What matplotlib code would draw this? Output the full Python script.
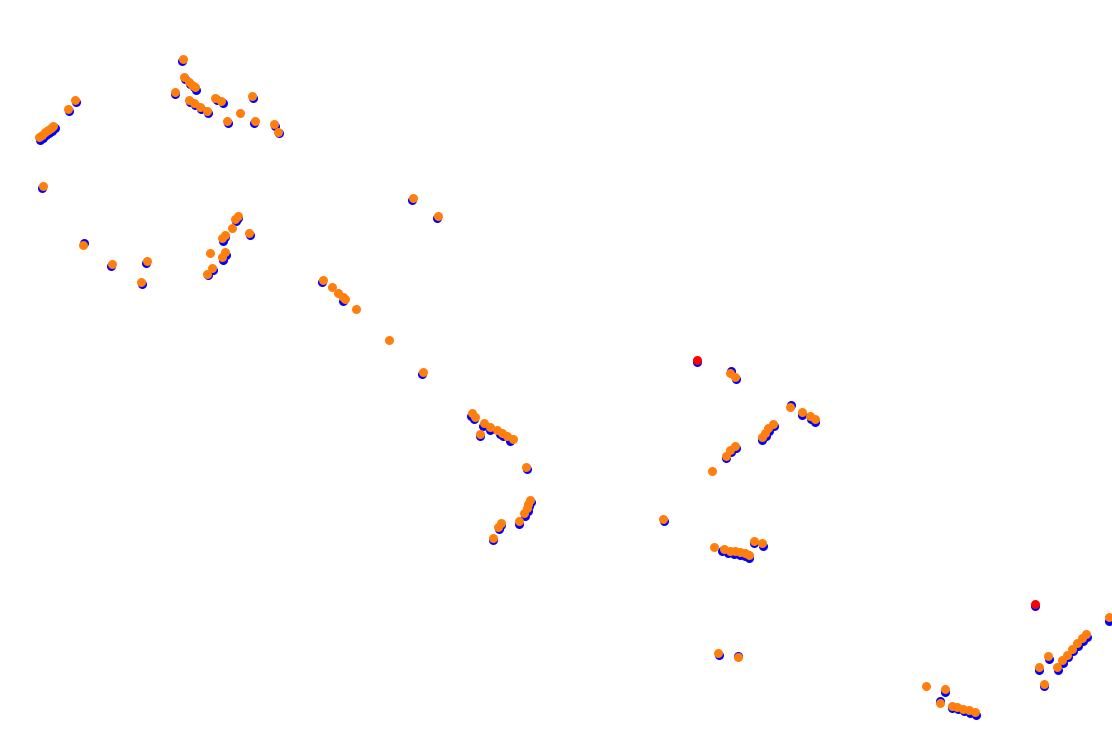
import matplotlib
matplotlib.use("Agg")
import matplotlib.pyplot as plt

# points (pixel-like units, y grows downward)
orange_x = [183, 184, 189, 192, 195, 175, 189, 194, 200, 207, 215, 221, 252, 240, 227, 255, 274, 278,
            75, 68, 39, 42, 45, 48, 51, 53, 43,
            83, 112, 147, 141, 238, 235, 232, 249, 225, 222, 210, 225, 222, 212, 207,
            413, 438, 323, 332, 338, 343, 345, 356, 389, 423,
            472, 475, 484, 490, 497, 502, 507, 513, 480, 526,
            530, 528, 527, 524, 519, 501, 498, 493,
            730, 735, 790, 802, 810, 815, 773, 768, 765, 762, 735, 730, 726, 712,
            663, 714, 724, 730, 735, 740, 745, 749, 754, 762, 718, 738,
            1109, 1086, 1082, 1077, 1072, 1067, 1062, 1057, 1048, 1039, 1044,
            926, 945, 940, 952, 957, 963, 969, 975]
orange_y = [59, 77, 82, 85, 87, 92, 100, 103, 107, 111, 98, 101, 96, 113, 121, 121, 124, 132,
            100, 109, 137, 135, 132, 130, 128, 126, 186,
            245, 264, 261, 282, 216, 219, 228, 233, 235, 238, 253, 252, 257, 268, 274,
            198, 216, 280, 287, 293, 297, 299, 309, 340, 372,
            413, 417, 423, 427, 430, 433, 436, 439, 434, 467,
            500, 504, 508, 513, 521, 523, 527, 538,
            373, 377, 407, 412, 416, 419, 424, 428, 433, 437, 446, 450, 456, 471,
            519, 547, 549, 551, 551, 552, 553, 555, 541, 543, 653, 657,
            617, 634, 638, 643, 649, 655, 660, 667, 656, 667, 684,
            686, 689, 703, 706, 707, 709, 710, 712]

blue_x = [182, 185, 190, 194, 196, 175, 190, 195, 201, 208, 217, 223, 253, 228, 254, 275, 279,
          76, 69, 40, 43, 46, 49, 52, 55, 42,
          84, 111, 146, 142, 238, 236, 250, 225, 223, 226, 223, 213, 208,
          412, 437, 322, 343, 422,
          471, 474, 483, 490, 500, 503, 510, 480, 527,
          531, 529, 528, 525, 519, 501, 499, 493,
          731, 736, 791, 802, 811, 815, 774, 769, 766, 762, 736, 731, 726,
          664, 722, 728, 734, 740, 745, 749, 754, 763, 719, 738, 1035, 697,
          1109, 1087, 1083, 1078, 1073, 1068, 1063, 1058, 1049, 1039, 1044,
          945, 940, 952, 958, 964, 970, 976]
blue_y = [61, 79, 84, 87, 90, 94, 102, 105, 109, 113, 100, 103, 98, 123, 123, 126, 133,
          102, 111, 140, 138, 135, 133, 131, 128, 188,
          243, 266, 263, 284, 218, 221, 235, 237, 241, 255, 260, 270, 275,
          200, 218, 282, 301, 374,
          416, 419, 426, 430, 434, 436, 441, 436, 469,
          502, 506, 511, 516, 524, 525, 529, 540,
          371, 379, 405, 415, 419, 422, 426, 431, 436, 440, 448, 452, 458,
          521, 551, 553, 554, 555, 556, 558, 543, 546, 655, 656, 606, 362,
          621, 637, 641, 646, 651, 657, 663, 670, 659, 670, 686,
          692, 701, 708, 709, 711, 713, 715]

red_x = [697, 1035]
red_y = [360, 604]

fig = plt.figure(figsize=(11.12, 7.48), dpi=100)
ax = fig.add_axes([0, 0, 1, 1])
ax.scatter(blue_x, blue_y, s=42, color="#0000ff", linewidths=0)
ax.scatter(orange_x, orange_y, s=42, color="#ff7f0e", linewidths=0)
ax.scatter(red_x, red_y, s=42, color="#ff0000", linewidths=0)
ax.set_xlim(0, 1112)
ax.set_ylim(748, 0)
ax.axis("off")
fig.savefig("out.png", dpi=100, facecolor="white")
